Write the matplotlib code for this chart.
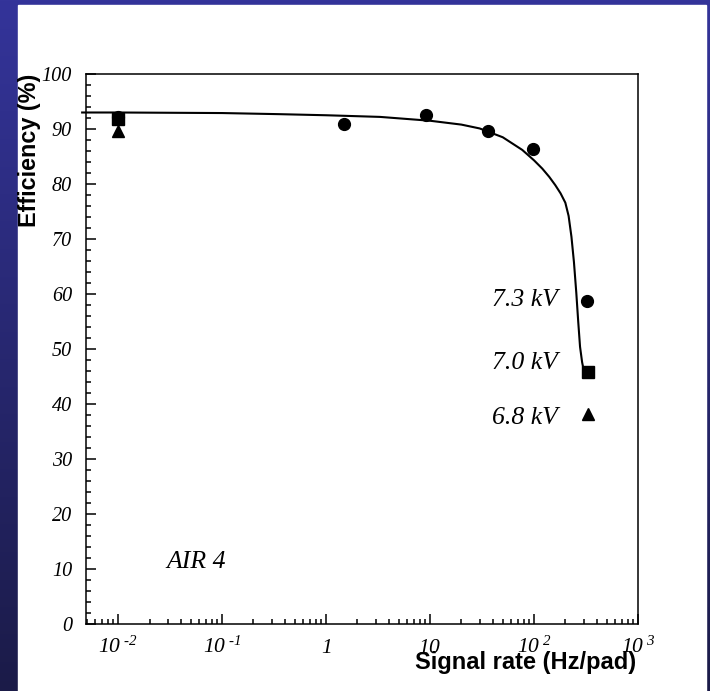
import numpy as np
import matplotlib
matplotlib.use("Agg")
import matplotlib.pyplot as plt
from matplotlib.patches import Rectangle
from matplotlib.ticker import FixedLocator, LogLocator, NullFormatter, MultipleLocator

plt.rcParams['mathtext.fontset'] = 'custom'
plt.rcParams['mathtext.rm'] = 'Liberation Serif:italic'
plt.rcParams['mathtext.it'] = 'Liberation Serif:italic'
plt.rcParams['mathtext.default'] = 'it'

# measured points per high voltage
rate_73 = [0.01, 1.5, 9.2, 36, 98, 325]
eff_73 = [92.1, 90.9, 92.5, 89.7, 86.4, 58.7]
rate_70 = [0.01, 330]
eff_70 = [91.8, 45.8]
rate_68 = [0.01, 330]
eff_68 = [89.7, 38.2]

# fitted curve
fit_rate = [0.0045, 0.01, 0.1, 0.35, 1, 3.3, 10, 20, 30, 50, 77, 100, 120,
            140, 160, 180, 200, 215, 229, 242, 255, 266, 277, 290, 300]
fit_eff = [93.0, 93.0, 92.9, 92.7, 92.5, 92.2, 91.5, 90.8, 90.1, 88.5, 86.2,
           84.3, 82.8, 81.3, 79.8, 78.3, 76.6, 74.2, 70.4, 65.8, 60.2, 55.0,
           50.4, 47.6, 46.2]

xticks = [0.01, 0.1, 1, 10, 100, 1000]
xticklabels = [r"$10^{\ \text{-2}}$", r"$10^{\ \text{-1}}$", "$1$", "$10$",
               r"$10^{\ 2}$", r"$10^{\ 3}$"]

labels = ["7.3 kV", "7.0 kV", "6.8 kV"]
label_y = [58.9, 47.5, 37.5]

W, H = 710, 691
fig = plt.figure(figsize=(W / 100, H / 100), dpi=100)

# slide background: blue gradient with white panel
bg = fig.add_axes([0, 0, 1, 1], zorder=-10)
grad = np.linspace(0, 1, 256).reshape(-1, 1)
top_c = np.array([0x34, 0x34, 0x9a]) / 255
bot_c = np.array([0x1b, 0x1b, 0x48]) / 255
img = top_c[None, None, :] * (1 - grad[:, :, None]) + bot_c[None, None, :] * grad[:, :, None]
bg.imshow(img, extent=[0, 1, 0, 1], aspect='auto', origin='upper')
bg.add_patch(Rectangle((18 / W, 0), (706 - 18) / W, (H - 5) / H, color='white'))
bg.set_xlim(0, 1)
bg.set_ylim(0, 1)
bg.axis('off')

ax = fig.add_axes([86 / W, 1 - 624 / H, (638 - 86) / W, (624 - 74) / H])
ax.set_facecolor('white')

ax.plot(fit_rate, fit_eff, color='black', lw=1.5, clip_on=False, zorder=2)
ax.plot(rate_73, eff_73, 'o', color='black', ms=8.5, zorder=3)
ax.plot(rate_70, eff_70, 's', color='black', ms=8, zorder=4)
ax.plot(rate_68, eff_68, '^', color='black', ms=8, zorder=3)

ax.set_xscale('log')
ax.set_xlim(0.0049, 1000)
ax.set_ylim(0, 100)

ax.xaxis.set_major_locator(FixedLocator(xticks))
ax.set_xticklabels(xticklabels)
ax.xaxis.set_minor_locator(LogLocator(base=10, subs=np.arange(2, 10)))
ax.xaxis.set_minor_formatter(NullFormatter())
ax.yaxis.set_major_locator(MultipleLocator(10))
ax.yaxis.set_minor_locator(MultipleLocator(2))

ax.tick_params(which='both', direction='in', top=False, right=False, width=1.1)
ax.tick_params(which='major', length=7)
ax.tick_params(which='minor', length=3.5)
ax.tick_params(axis='y', pad=10)
ax.tick_params(axis='x', pad=21)
for lab in ax.get_xticklabels():
    lab.set_fontsize(15.5)
    lab.set_verticalalignment('baseline')
for lab in ax.get_yticklabels():
    lab.set_fontsize(14.5)
    lab.set_family('Liberation Serif')
    lab.set_style('italic')

for s in ax.spines.values():
    s.set_linewidth(1.1)

for txt, yv in zip(labels, label_y):
    ax.text(171, yv, txt, ha='right', va='center', fontsize=18.5,
            family='Liberation Serif', style='italic')
ax.text(0.029, 11.3, "AIR 4", ha='left', va='center', fontsize=18.5,
        family='Liberation Serif', style='italic')

fig.text(636 / W, 1 - 662 / H, "Signal rate (Hz/pad)", ha='right', va='center',
         fontsize=17, fontweight='bold', family='Liberation Sans')
fig.text(30 / W, 1 - 74 / H, "Efficiency (%)", ha='center', va='top', rotation=90,
         fontsize=16.8, fontweight='bold', family='Liberation Sans')

fig.savefig("out.png", dpi=100)
